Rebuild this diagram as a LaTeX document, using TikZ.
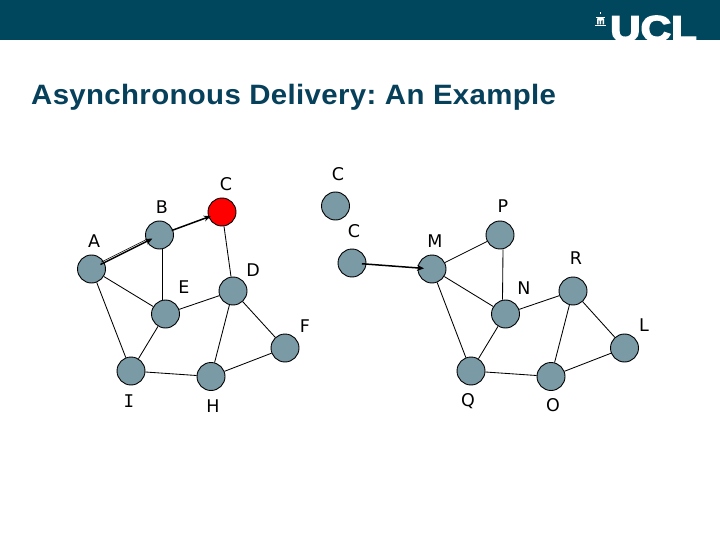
\documentclass[tikz,border=0pt]{standalone}
\usepackage{fontspec}
\setmainfont{DejaVu Sans}
\newfontfamily\titlefont[LetterSpace=1.2]{Liberation Sans Bold}
\newfontfamily\logofont[FakeBold=4]{Liberation Sans Bold}
\newfontfamily\monoI{DejaVu Sans Mono}
\definecolor{ucl}{HTML}{00475E}
\definecolor{heading}{HTML}{06405A}
\definecolor{nodefill}{HTML}{7A9AA5}
\usetikzlibrary{arrows.meta}
\tikzset{
  peer/.style={circle,draw=black,line width=0.9pt,fill=nodefill,minimum size=28pt,inner sep=0pt},
  source/.style={peer,fill=red},
  tag/.style={inner sep=0pt,text=black,font=\fontsize{17.5}{18}\selectfont},
  link/.style={draw=black,line width=0.85pt},
  hop/.style={draw=black,line width=1.5pt,-{Stealth[length=7pt,width=6pt]}}
}
\begin{document}
\begin{tikzpicture}[x=1pt,y=-1pt]
\useasboundingbox (0,0) rectangle (720,540);
\fill[white] (0,0) rectangle (720,540);
\fill[ucl] (0,0) rectangle (720,40);
% logo
\begin{scope}
\clip (0,0) rectangle (720,40);
\node[anchor=base west,inner sep=0pt,text=white,xscale=1.17,font=\logofont\fontsize{36}{36}\selectfont] (logo) at (610,41) {UCL};
\end{scope}
\fill[white] (595,25) rectangle (605.5,26.5);
\fill[white] (596,17.5) rectangle (605,18.5);
\fill[white] (597,19) rectangle (598.5,24.5) (599.7,19) rectangle (601.2,24.5) (602.5,19) rectangle (604,24.5);
\fill[white] (597,17.5) arc[start angle=180,end angle=0,radius=3.5] -- cycle;
\fill[white] (600.1,12.5) rectangle (600.9,14.5);
% title
\node[anchor=base west,inner sep=0pt,text=heading,xscale=1.05,font=\titlefont\fontsize{28}{30}\selectfont] (title) at (31,104.3) {\frenchspacing Asynchronous Delivery: An Example};
% left graph
\node[peer] (A) at (91.5,269) {};
\node[peer] (B) at (159.5,235) {};
\node[source] (C) at (222,212) {};
\node[peer] (D) at (233,291) {};
\node[peer] (E) at (165.5,314) {};
\node[peer] (F) at (285,348) {};
\node[peer] (I) at (131,371) {};
\node[peer] (H) at (211,376.5) {};
% right graph
\node[peer] (C1) at (335.5,206) {};
\node[peer] (C2) at (352,263) {};
\node[peer] (M) at (432,269) {};
\node[peer] (P) at (500,235) {};
\node[peer] (N) at (505.5,314) {};
\node[peer] (R) at (573,291) {};
\node[peer] (L) at (624.5,348) {};
\node[peer] (Q) at (471,371) {};
\node[peer] (O) at (551,376.5) {};
% links
\foreach \a/\b in {A/E,A/I,C/D,D/E,D/H,D/F,E/I,I/H,H/F,M/P,M/N,M/Q,N/R,N/Q,R/O,R/L,Q/O,O/L}
  \draw[link] (\a) -- (\b);
\draw[link] ([xshift=3pt]B.south) -- ([xshift=-3pt]E.north);
\draw[link] ([xshift=3pt]P.south) -- ([xshift=-3pt]N.north);
% second thin line beneath the A-B message
\draw[black,line width=0.6pt,shorten <=11pt,shorten >=14pt] ([yshift=2pt]A.center) -- ([yshift=2pt]B.center);
% messages
\draw[hop,shorten <=10pt,shorten >=8pt] (A.center) -- (B.center);
\draw[hop,shorten <=13pt,shorten >=12pt] (B.center) -- (C.center);
\draw[hop,shorten <=10pt,shorten >=8pt] (C2.center) -- (M.center);
% labels
\node[tag] (tA) at (94,241) {A};
\node[tag] (tB) at (162,207) {B};
\node[tag] (tC) at (226,184) {C};
\node[tag] (tC1) at (338,174) {C};
\node[tag] (tP) at (503,206) {P};
\node[tag] (tC2) at (354,231) {C};
\node[tag] (tM) at (435,241) {M};
\node[tag] (tR) at (576,258) {R};
\node[tag] (tN) at (524,288) {N};
\node[tag] (tL) at (644,325) {L};
\node[tag] (tF) at (305,326) {F};
\node[tag] (tE) at (184,287) {E};
\node[tag] (tD) at (253,270) {D};
\node[tag,font=\monoI\fontsize{17.5}{18}\selectfont] (tI) at (129,401) {I};
\node[tag] (tH) at (213,406) {H};
\node[tag] (tQ) at (468,401) {Q};
\node[tag] (tO) at (553,405) {O};
\end{tikzpicture}
\end{document}
